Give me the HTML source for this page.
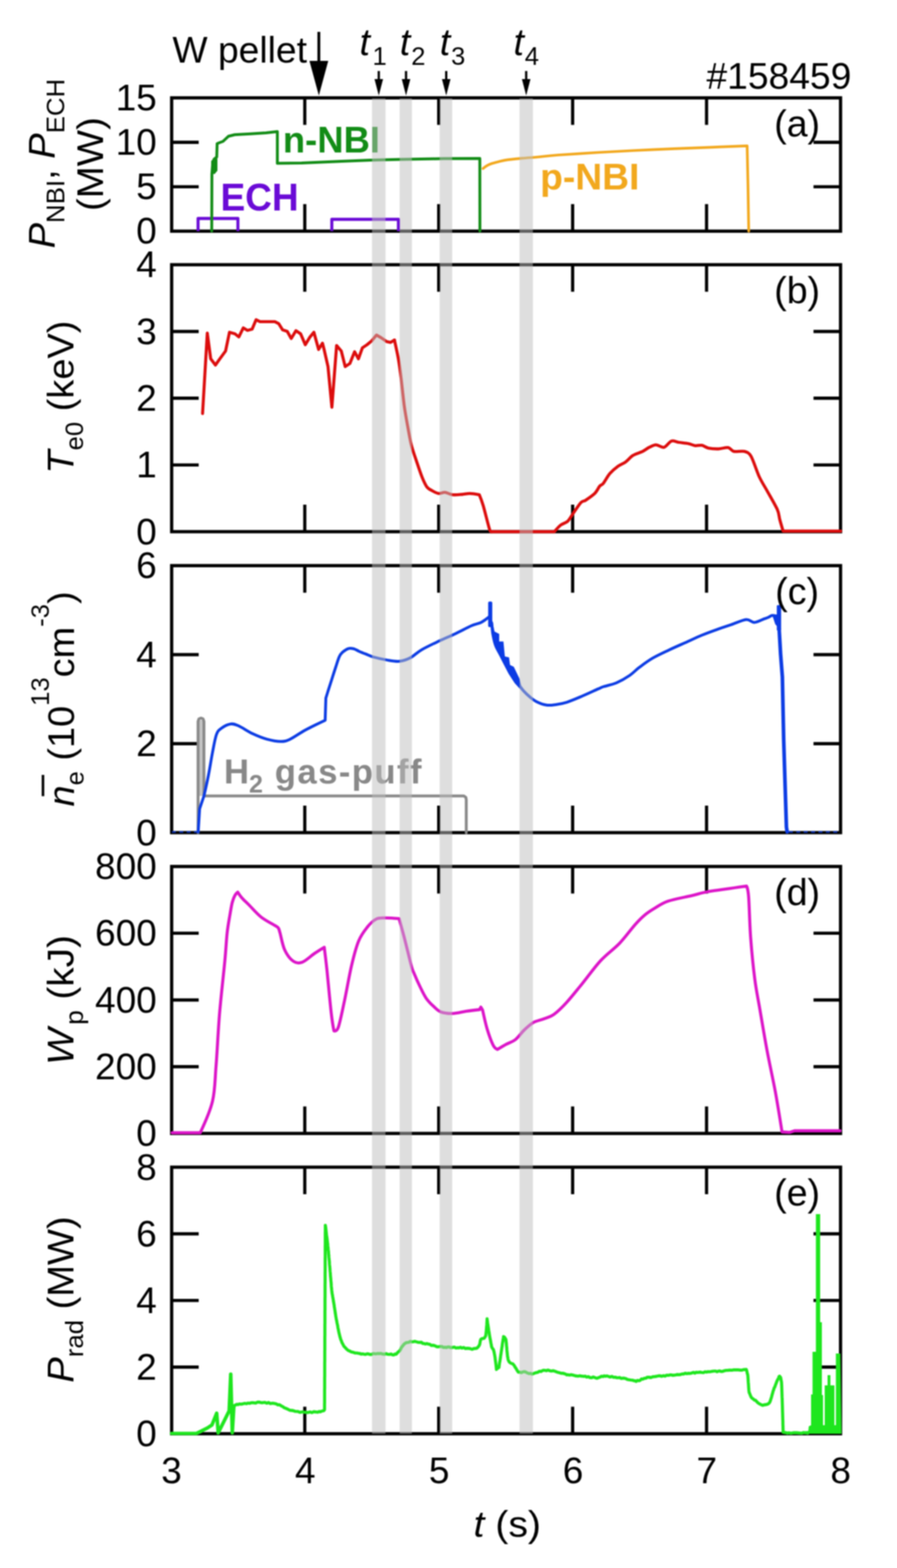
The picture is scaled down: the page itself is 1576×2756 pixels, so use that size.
<!DOCTYPE html><html><head><meta charset="utf-8"><title>Figure</title><style>html,body{margin:0;padding:0;background:#fff;}svg{display:block;filter:blur(0.8px);}text{font-family:'Liberation Sans', Arial, Helvetica, sans-serif;}</style></head><body>
<svg width="1576" height="2756" viewBox="0 0 1576 2756">
<rect width="1576" height="2756" fill="#fff"/>
<rect x="301.6" y="172.0" width="1175.2" height="234.3" fill="none" stroke="#000" stroke-width="5.7"/>
<path d="M535.5,172.0V219.5M535.5,406.3V358.8M770.8,172.0V219.5M770.8,406.3V358.8M1006.1,172.0V219.5M1006.1,406.3V358.8M1241.4,172.0V219.5M1241.4,406.3V358.8M301.6,328.2H349.1M1476.8,328.2H1429.3M301.6,250.1H349.1M1476.8,250.1H1429.3" stroke="#000" stroke-width="5.6" fill="none"/>
<rect x="301.6" y="465.3" width="1175.2" height="469.2" fill="none" stroke="#000" stroke-width="5.7"/>
<path d="M535.5,465.3V512.8M535.5,934.5V887.0M770.8,465.3V512.8M770.8,934.5V887.0M1006.1,465.3V512.8M1006.1,934.5V887.0M1241.4,465.3V512.8M1241.4,934.5V887.0M301.6,817.2H349.1M1476.8,817.2H1429.3M301.6,699.9H349.1M1476.8,699.9H1429.3M301.6,582.6H349.1M1476.8,582.6H1429.3" stroke="#000" stroke-width="5.6" fill="none"/>
<rect x="301.6" y="994.2" width="1175.2" height="469.3" fill="none" stroke="#000" stroke-width="5.7"/>
<path d="M535.5,994.2V1041.7M535.5,1463.5V1416.0M770.8,994.2V1041.7M770.8,1463.5V1416.0M1006.1,994.2V1041.7M1006.1,1463.5V1416.0M1241.4,994.2V1041.7M1241.4,1463.5V1416.0M301.6,1307.1H349.1M1476.8,1307.1H1429.3M301.6,1150.6H349.1M1476.8,1150.6H1429.3" stroke="#000" stroke-width="5.6" fill="none"/>
<rect x="301.6" y="1523.0" width="1175.2" height="469.2" fill="none" stroke="#000" stroke-width="5.7"/>
<path d="M535.5,1523.0V1570.5M535.5,1992.2V1944.7M770.8,1523.0V1570.5M770.8,1992.2V1944.7M1006.1,1523.0V1570.5M1006.1,1992.2V1944.7M1241.4,1523.0V1570.5M1241.4,1992.2V1944.7M301.6,1874.9H349.1M1476.8,1874.9H1429.3M301.6,1757.6H349.1M1476.8,1757.6H1429.3M301.6,1640.3H349.1M1476.8,1640.3H1429.3" stroke="#000" stroke-width="5.6" fill="none"/>
<rect x="301.6" y="2051.5" width="1175.2" height="468.5" fill="none" stroke="#000" stroke-width="5.7"/>
<path d="M535.5,2051.5V2099.0M535.5,2520.0V2472.5M770.8,2051.5V2099.0M770.8,2520.0V2472.5M1006.1,2051.5V2099.0M1006.1,2520.0V2472.5M1241.4,2051.5V2099.0M1241.4,2520.0V2472.5M301.6,2402.9H349.1M1476.8,2402.9H1429.3M301.6,2285.8H349.1M1476.8,2285.8H1429.3M301.6,2168.6H349.1M1476.8,2168.6H1429.3" stroke="#000" stroke-width="5.6" fill="none"/>
<path d="M348,406.3V384H418V406.3M583,406.3V385.5H700V406.3" fill="none" stroke="#6a0ad6" stroke-width="5.3" stroke-linejoin="round"/>
<polyline points="372.0,406.3 372.3,306.0 373.5,290.0 376.0,280.0 380.8,276.0 381.5,252.6 385.0,251.0 391.8,248.5 401.4,239.5 412.4,236.8 440.0,235.2 467.4,233.4 487.3,231.3 487.3,286.9 530.0,286.5 600.0,283.5 650.0,281.5 700.0,280.2 780.0,278.8 843.0,278.5 843.2,406.3" fill="none" stroke="#128c16" stroke-width="5.0" stroke-linejoin="round" stroke-linecap="round" />
<path d="M371,305L371,283L377,277L382,279L382,300L377,306Z" fill="#128c16"/>
<path d="M848.7,296.3C848.7,296.3 852.7,292.9 855.0,291.5C857.3,290.1 859.1,289.2 862.4,288.0C865.7,286.8 870.4,285.6 875.0,284.5C879.6,283.4 882.8,282.2 889.9,281.2C897.0,280.1 908.2,279.1 917.4,278.2C926.5,277.3 934.4,276.9 944.8,276.0C955.2,275.1 962.5,273.8 980.0,272.5C997.5,271.2 1021.7,269.6 1050.0,268.0C1078.3,266.4 1116.7,264.3 1150.0,262.8C1183.3,261.3 1222.9,259.9 1250.0,258.8C1277.1,257.7 1312.7,256.3 1312.7,256.3C1312.7,256.3 1314.2,327.0 1314.2,327.0C1314.2,327.0 1315.5,406.3 1315.5,406.3" fill="none" stroke="#f2a81d" stroke-width="4.7" stroke-linejoin="round" stroke-linecap="round" />
<text transform="translate(497.00,267.60)" text-anchor="start" font-size="64" font-weight="bold" fill="#128c16">n-NBI</text>
<text transform="translate(387.50,370.00) scale(1.0000,1.0500)" text-anchor="start" font-size="65" font-weight="bold" fill="#6a0ad6">ECH</text>
<text transform="translate(949.00,333.20) scale(1.0220,1.0000)" text-anchor="start" font-size="64" font-weight="bold" fill="#f2a81d">p-NBI</text>
<polyline points="355.9,726.8 364.2,585.3 370.2,630.7 378.5,641.6 385.3,632.0 396.3,617.0 403.2,584.0 412.8,586.7 419.7,592.2 427.4,576.3 434.8,580.7 443.0,578.5 449.9,562.0 456.8,565.3 482.9,565.3 489.7,568.8 496.6,579.8 504.8,582.6 511.7,595.0 520.0,581.2 528.2,586.7 536.4,605.9 544.7,592.2 551.5,584.0 559.8,614.2 566.6,603.2 569.4,614.2 576.3,644.4 583.1,715.8 591.4,607.3 599.6,616.9 606.5,644.4 614.7,638.9 623.0,618.3 629.8,630.7 636.7,611.4 644.9,605.9 653.2,599.0 661.4,588.9 669.7,593.6 679.3,600.4 686.2,601.8 693.0,597.7" fill="none" stroke="#dc0c0c" stroke-width="5.3" stroke-linejoin="round" stroke-linecap="round" />
<path d="M693.0,597.7C693.0,597.7 698.1,620.6 699.9,630.7C701.7,640.8 703.2,652.7 704.7,665.0C706.2,677.3 708.6,700.9 710.2,713.0C711.9,725.1 713.8,735.7 715.7,746.0C717.6,756.3 720.1,771.7 722.6,781.6C725.1,791.5 729.3,803.2 732.2,811.9C735.1,820.6 739.1,832.7 741.8,839.3C744.5,845.9 747.3,852.3 750.0,855.8C752.7,859.3 756.6,861.0 759.7,862.7C762.8,864.4 767.4,867.0 770.7,867.4C774.0,867.8 777.9,865.1 781.6,865.4C785.3,865.7 790.9,869.1 795.4,869.6C799.9,870.1 807.4,869.3 811.9,869.0C816.4,868.7 821.1,867.3 825.6,867.4C830.1,867.5 842.1,869.6 842.1,869.6C842.1,869.6 846.3,879.7 849.0,888.8C851.7,897.9 857.8,923.1 860.0,930.0C862.2,936.9 864.0,934.5 864.0,934.5C864.0,934.5 974.0,934.5 974.0,934.5C974.0,934.5 981.5,925.7 985.0,923.0C988.5,920.3 994.0,919.4 997.3,916.3C1000.6,913.2 1003.5,907.5 1007.0,902.5C1010.5,897.5 1017.4,886.8 1020.7,883.3C1024.0,879.8 1025.3,881.7 1029.0,879.2C1032.7,876.7 1041.7,870.5 1045.4,866.8C1049.1,863.1 1051.4,857.1 1053.6,854.5C1055.8,851.9 1057.3,852.9 1060.0,849.6C1062.7,846.3 1067.6,836.8 1071.5,832.3C1075.4,827.8 1081.9,822.3 1086.0,819.3C1090.1,816.3 1095.1,814.9 1099.0,812.1C1102.9,809.3 1107.5,803.4 1112.0,800.6C1116.5,797.8 1124.9,795.6 1129.2,793.4C1133.5,791.2 1137.3,787.9 1140.8,786.2C1144.3,784.5 1148.4,781.8 1152.3,781.8C1156.2,781.8 1162.6,787.2 1166.7,786.2C1170.8,785.2 1175.8,776.5 1179.7,775.2C1183.6,773.9 1188.2,776.8 1192.7,777.5C1197.2,778.2 1205.7,778.9 1210.0,779.8C1214.3,780.7 1218.0,782.9 1221.5,783.3C1225.0,783.7 1229.5,782.1 1233.0,782.7C1236.5,783.3 1240.2,786.7 1244.6,787.6C1248.9,788.5 1256.8,789.1 1262.0,789.0C1267.2,788.9 1275.1,786.0 1279.2,786.7C1283.3,787.4 1285.0,792.4 1289.3,793.4C1293.6,794.4 1303.5,792.1 1308.0,793.4C1312.5,794.7 1315.7,795.3 1319.6,802.0C1323.5,808.7 1329.7,828.7 1334.0,838.0C1338.3,847.3 1343.7,855.3 1348.5,864.0C1353.3,872.7 1362.6,888.4 1365.8,895.8C1369.0,903.1 1368.5,907.3 1370.0,913.0C1371.5,918.7 1375.9,933.5 1375.9,933.5C1375.9,933.5 1477.0,933.5 1477.0,933.5" fill="none" stroke="#dc0c0c" stroke-width="5.3" stroke-linejoin="round" stroke-linecap="round" />
<rect x="349.5" y="1266" width="7.5" height="133" fill="#c6c6c6"/>
<polyline points="348.0,1463.5 348.0,1268.0 349.5,1263.5 353.2,1262.2 356.8,1263.5 358.3,1268.0 358.3,1399.0 815.0,1399.0 818.5,1401.5 819.2,1405.5 819.2,1463.5" fill="none" stroke="#888888" stroke-width="5.0" stroke-linejoin="round" stroke-linecap="round" />
<text x="393.5" y="1377" font-size="61" font-weight="bold" fill="#888888">H<tspan font-size="44" dy="15.8">2</tspan><tspan dy="-15.8" dx="1.4" letter-spacing="2.45"> gas-puff</tspan></text>
<path d="M302,1462.3H346M1386,1462.3H1476" stroke="#0c3ce4" stroke-width="3" stroke-dasharray="7 6" fill="none" opacity="0.75"/>
<polyline points="348.2,1462.5 350.7,1421.8 358.5,1398.5" fill="none" stroke="#0c3ce4" stroke-width="5.0" stroke-linejoin="round" stroke-linecap="round" />
<path d="M358.5,1398.5C358.5,1398.5 363.9,1374.8 366.3,1362.3C368.8,1349.8 370.9,1335.3 373.2,1323.4C375.5,1311.5 377.7,1298.2 380.3,1291.0C382.9,1283.8 384.8,1283.1 389.0,1280.0C393.2,1276.9 400.4,1273.2 405.4,1272.5C410.4,1271.8 412.7,1273.0 419.1,1275.8C425.5,1278.6 435.6,1285.7 443.8,1289.6C452.1,1293.5 460.4,1296.9 468.6,1299.2C476.9,1301.5 486.4,1303.3 493.3,1303.3C500.2,1303.3 502.5,1302.6 509.8,1299.2C517.1,1295.8 527.0,1288.2 537.3,1282.7C547.5,1277.2 571.3,1265.9 571.3,1265.9C571.3,1265.9 572.5,1227.0 572.5,1227.0C572.5,1227.0 574.6,1220.3 576.3,1214.8C578.0,1209.3 580.7,1201.1 582.9,1194.2C585.1,1187.3 587.3,1180.2 589.5,1173.6C591.7,1167.0 594.0,1159.1 596.0,1154.6C598.0,1150.1 599.0,1148.9 601.8,1146.4C604.5,1143.9 609.1,1140.8 612.5,1139.8C615.9,1138.8 619.4,1139.8 622.4,1140.6C625.4,1141.4 627.3,1143.2 630.7,1144.7C634.1,1146.2 638.9,1148.1 643.0,1149.7C647.1,1151.3 649.2,1152.9 655.4,1154.6C661.6,1156.3 672.2,1158.8 680.0,1160.1C687.8,1161.4 695.1,1163.0 702.0,1162.3C708.9,1161.6 714.8,1159.3 721.2,1156.0C727.6,1152.7 732.1,1147.1 740.4,1142.3C748.6,1137.5 760.6,1131.9 770.7,1127.1C780.8,1122.3 791.3,1118.0 800.9,1113.4C810.5,1108.8 821.1,1102.9 828.4,1099.7C835.7,1096.5 839.7,1096.7 844.8,1094.2C849.9,1091.7 859.0,1084.5 859.0,1084.5" fill="none" stroke="#0c3ce4" stroke-width="5.0" stroke-linejoin="round" stroke-linecap="round" />
<rect x="857.7" y="1057.3" width="7.2" height="45" rx="2.5" fill="#0c3ce4"/>
<path d="M862.5,1095.0L863.1,1110.0L867.2,1130.7L874.6,1147.2L882.9,1163.7L893.6,1184.3L904.3,1200.8L911.8,1209.0L916.0,1213.0L916.0,1206.0L912.6,1192.6L902.7,1172.0L896.1,1168.7L894.4,1155.5L887.0,1153.8L884.5,1127.4L877.1,1127.4L877.1,1114.2L868.9,1110.0L864.7,1089.5Z" fill="#0c3ce4"/>
<path d="M864.0,1095.0C864.0,1095.0 864.8,1108.3 866.0,1115.0C867.2,1121.7 868.8,1129.2 871.0,1135.0C873.2,1140.8 876.3,1145.3 879.0,1150.0C881.7,1154.7 884.3,1158.3 887.0,1163.0C889.7,1167.7 892.2,1173.0 895.0,1178.0C897.8,1183.0 901.2,1188.7 904.0,1193.0C906.8,1197.3 909.3,1200.4 912.0,1204.0C914.7,1207.6 916.8,1211.0 920.0,1214.5C923.2,1218.0 927.2,1221.8 931.0,1225.0C934.8,1228.2 938.1,1231.1 943.0,1233.5C947.9,1235.9 954.6,1238.5 960.2,1239.3C965.8,1240.1 970.8,1239.2 976.7,1238.4C982.7,1237.6 988.1,1236.8 995.9,1234.3C1003.7,1231.8 1014.2,1227.2 1023.4,1223.3C1032.6,1219.4 1044.8,1213.6 1050.9,1210.9C1057.0,1208.2 1054.7,1208.8 1060.0,1207.0C1065.3,1205.2 1075.3,1203.5 1083.0,1200.2C1090.7,1196.9 1099.5,1191.8 1106.2,1187.2C1113.0,1182.6 1116.8,1177.8 1123.5,1172.8C1130.2,1167.8 1137.8,1162.0 1146.5,1156.9C1155.2,1151.9 1165.8,1147.1 1175.4,1142.5C1185.0,1137.9 1194.6,1133.8 1204.2,1129.5C1213.8,1125.2 1223.4,1120.5 1233.0,1116.5C1242.6,1112.5 1253.3,1108.7 1262.0,1105.6C1270.7,1102.5 1276.8,1100.5 1285.0,1097.8C1293.2,1095.0 1304.3,1089.7 1311.0,1089.1C1317.7,1088.5 1320.1,1094.2 1325.4,1094.0C1330.7,1093.8 1338.7,1089.2 1342.7,1087.7C1346.7,1086.2 1347.2,1086.3 1349.5,1085.3C1351.8,1084.3 1354.0,1082.2 1356.5,1081.8C1359.0,1081.4 1364.2,1083.0 1364.2,1083.0" fill="none" stroke="#0c3ce4" stroke-width="5.0" stroke-linejoin="round" stroke-linecap="round" />
<rect x="1364.8" y="1063.5" width="7.6" height="45" rx="2" fill="#0c3ce4"/>
<path d="M1356.5,1080L1366,1080L1368,1104L1362,1097Z" fill="#0c3ce4"/>
<polyline points="1368.6,1100.0 1371.5,1150.0 1374.6,1190.0 1376.9,1300.0 1381.7,1453.7 1383.0,1462.0" fill="none" stroke="#0c3ce4" stroke-width="6.4" stroke-linejoin="round" stroke-linecap="round" />
<path d="M302.4,1991.0C302.4,1991.0 351.8,1991.0 351.8,1991.0C351.8,1991.0 368.8,1955.0 373.4,1935.4C378.0,1915.8 377.5,1899.3 379.6,1873.6C381.7,1847.8 383.2,1811.8 385.8,1780.9C388.4,1750.0 392.9,1711.8 395.1,1688.2C397.3,1664.6 397.6,1652.9 399.1,1639.5C400.6,1626.1 402.5,1616.8 404.0,1607.9C405.5,1599.0 406.6,1591.7 408.1,1586.0C409.6,1580.3 411.3,1576.6 412.9,1573.6C414.5,1570.6 417.7,1568.1 417.7,1568.1C417.7,1568.1 421.4,1574.0 424.6,1577.7C427.8,1581.4 431.2,1584.3 436.9,1590.0C442.6,1595.7 451.1,1605.8 458.9,1612.0C466.7,1618.2 478.6,1623.9 483.6,1627.1C488.6,1630.3 487.7,1629.2 489.1,1631.3C490.5,1633.4 490.0,1633.1 491.9,1639.5C493.8,1645.9 496.2,1661.2 500.2,1669.6C504.1,1678.0 510.5,1686.1 515.6,1689.7C520.7,1693.3 524.8,1693.6 531.0,1691.3C537.2,1689.0 546.2,1680.2 552.7,1675.8C559.2,1671.4 569.7,1665.0 569.7,1665.0C569.7,1665.0 572.2,1684.3 574.3,1703.6C576.3,1722.9 579.9,1762.9 582.0,1780.9C584.1,1798.9 586.7,1811.8 586.7,1811.8C586.7,1811.8 591.3,1814.3 594.4,1805.6C597.5,1796.8 601.3,1777.3 605.2,1759.3C609.1,1741.3 613.5,1714.9 617.6,1697.4C621.7,1679.9 625.4,1665.5 630.0,1654.2C634.6,1642.9 640.2,1636.0 645.4,1629.5C650.5,1623.0 655.8,1618.2 660.9,1615.5C666.0,1612.8 669.6,1613.6 676.3,1613.4C683.0,1613.2 701.0,1614.6 701.0,1614.6C701.0,1614.6 706.7,1634.2 710.3,1648.0C713.9,1661.8 719.8,1686.8 722.7,1697.4C725.6,1708.0 725.2,1705.2 727.8,1711.4C730.4,1717.7 734.8,1727.7 738.3,1734.9C741.8,1742.1 744.8,1748.8 748.7,1754.4C752.6,1760.1 757.4,1764.8 761.8,1768.8C766.1,1772.8 769.1,1776.6 774.8,1778.7C780.4,1780.8 788.3,1781.5 795.7,1781.3C803.1,1781.1 811.4,1778.5 819.2,1777.4C827.0,1776.3 842.7,1774.5 842.7,1774.5C842.7,1774.5 844.8,1770.1 844.8,1770.1C844.8,1770.1 847.9,1775.3 847.9,1775.3C847.9,1775.3 852.7,1797.8 855.7,1808.0C858.8,1818.2 863.2,1830.5 866.2,1836.6C869.2,1842.7 874.0,1844.5 874.0,1844.5C874.0,1844.5 884.4,1838.1 889.6,1835.3C894.8,1832.5 900.1,1831.6 905.3,1827.5C910.5,1823.4 915.8,1815.5 921.0,1810.5C926.2,1805.5 931.0,1800.8 936.6,1797.5C942.2,1794.2 948.8,1793.4 954.9,1791.0C961.0,1788.6 966.3,1787.8 973.0,1783.1C979.7,1778.3 986.8,1771.4 995.0,1762.5C1003.2,1753.6 1012.3,1741.9 1022.4,1729.6C1032.5,1717.2 1044.4,1700.3 1055.4,1688.4C1066.4,1676.5 1078.3,1668.6 1088.4,1658.1C1098.5,1647.6 1108.5,1633.4 1115.8,1625.2C1123.1,1617.0 1126.6,1613.5 1132.3,1608.7C1138.0,1603.9 1143.1,1600.6 1150.0,1596.5C1156.9,1592.4 1162.7,1587.7 1173.5,1584.0C1184.3,1580.3 1203.2,1577.0 1214.7,1574.3C1226.2,1571.5 1233.0,1569.3 1242.2,1567.5C1251.4,1565.7 1261.7,1564.6 1269.7,1563.4C1277.7,1562.2 1283.0,1561.5 1290.0,1560.5C1297.0,1559.5 1311.7,1557.4 1311.7,1557.4C1311.7,1557.4 1314.1,1560.9 1315.3,1576.1C1316.5,1591.3 1317.1,1624.3 1318.9,1648.4C1320.7,1672.5 1323.4,1699.5 1326.1,1720.6C1328.8,1741.7 1331.6,1753.7 1335.2,1774.8C1338.8,1795.9 1343.3,1823.0 1347.8,1847.1C1352.3,1871.2 1357.9,1895.6 1362.3,1919.3C1366.7,1943.0 1374.0,1989.5 1374.0,1989.5C1374.0,1989.5 1387.7,1990.3 1387.7,1990.3C1387.7,1990.3 1396.0,1987.5 1396.0,1987.5C1396.0,1987.5 1476.0,1987.5 1476.0,1987.5" fill="none" stroke="#dc14c8" stroke-width="5.3" stroke-linejoin="round" stroke-linecap="round" />
<polyline points="301.5,2519.5 345.0,2519.5 353.2,2515.6 364.2,2510.0 372.4,2504.6 380.7,2484.0 383.4,2518.4 389.0,2507.4 402.6,2479.9 405.4,2415.3 408.1,2518.4 410.9,2471.6" fill="none" stroke="#1ee61e" stroke-width="6.2" stroke-linejoin="round" stroke-linecap="round" />
<polyline points="410.9,2471.6 412.3,2470.2 416.4,2468.3 418.2,2468.9 420.6,2467.6 423.4,2468.1 426.6,2467.5 429.8,2466.7 433.0,2467.2 435.9,2466.1 438.4,2466.6 440.8,2465.7 443.5,2465.4 446.4,2465.7 449.4,2466.1 452.3,2464.5 455.2,2464.5 457.9,2465.1 460.3,2465.6 462.7,2465.1 465.6,2465.0 468.7,2466.4 471.8,2465.1 474.9,2467.0 477.8,2466.4 480.3,2466.5 482.3,2466.8 485.5,2467.7 488.4,2469.3 491.0,2468.9 493.3,2470.4 495.2,2471.6 497.3,2472.6 499.5,2474.5 501.9,2475.2 504.3,2476.3 506.4,2477.2 509.1,2478.8 512.2,2479.0 515.4,2479.5 518.5,2480.6 521.3,2480.9 523.5,2480.9 526.1,2482.2 528.7,2482.2 531.3,2481.5 534.2,2482.2 537.3,2482.1 539.3,2482.8 541.8,2482.5 544.8,2481.7 548.1,2482.9 551.4,2481.3 554.7,2481.7 557.9,2482.2 560.7,2481.0 563.0,2481.5 564.7,2480.5 569.1,2479.3 570.2,2477.6 570.2,2477.2 570.2,2477.5 570.2,2476.2 570.2,2476.5 570.2,2475.8 570.2,2475.2 570.2,2474.3 570.2,2474.1 570.2,2473.4 570.2,2471.5 570.2,2470.7 570.2,2468.4 570.2,2468.3 570.2,2466.8 570.3,2465.9 570.3,2464.0 570.3,2461.3 570.3,2459.8 570.3,2458.4 570.3,2455.3 570.3,2454.1 570.3,2451.5 570.3,2449.2 570.3,2446.9 570.3,2445.8 570.3,2442.3 570.4,2440.1 570.4,2437.8 570.4,2436.1 570.4,2432.0 570.4,2429.9 570.4,2427.3 570.4,2425.1 570.4,2422.1 570.5,2419.2 570.5,2415.2 570.5,2412.4 570.5,2409.1 570.5,2406.9 570.5,2403.9 570.5,2399.2 570.5,2395.9 570.6,2392.7 570.6,2389.4 570.6,2386.4 570.6,2383.2 570.6,2379.1 570.6,2375.1 570.7,2372.4 570.7,2368.7 570.7,2365.5 570.7,2362.6 570.7,2358.5 570.7,2354.5 570.7,2351.0 570.8,2347.4 570.8,2342.6 570.8,2340.4 570.8,2336.4 570.8,2332.9 570.8,2329.0 570.9,2324.5 570.9,2320.8 570.9,2316.5 570.9,2313.7 570.9,2308.9 570.9,2305.1 571.0,2301.6 571.0,2297.8 571.0,2294.4 571.0,2290.1 571.0,2286.3 571.0,2282.9 571.1,2279.1 571.1,2275.9 571.1,2271.6 571.1,2269.5 571.1,2265.4 571.1,2261.0 571.1,2257.7 571.2,2254.3 571.2,2250.8 571.2,2246.9 571.2,2244.8 571.2,2241.6 571.2,2237.3 571.3,2234.0 571.3,2230.0 571.3,2226.8 571.3,2224.1 571.3,2220.8 571.3,2218.7 571.3,2214.4 571.3,2211.2 571.4,2209.9 571.4,2206.2 571.4,2202.7 571.4,2200.7 571.4,2197.0 571.4,2195.3 571.4,2193.5 571.4,2190.7 571.5,2188.0 571.5,2184.8 571.5,2182.7 571.5,2180.1 571.5,2179.0 571.5,2176.5 571.5,2174.9 571.5,2172.2 571.5,2170.1 571.5,2169.4 571.5,2168.1 571.5,2166.2 571.6,2164.7 571.6,2163.3 571.6,2161.8 571.6,2159.7 571.6,2159.1 571.6,2157.7 571.6,2156.2 571.6,2155.4 571.6,2155.1 571.6,2154.5 571.6,2154.8 571.6,2154.8 571.6,2153.6 571.6,2154.3 571.6,2154.4 571.6,2154.7 571.8,2154.6 572.0,2155.9 572.3,2158.0 572.6,2160.5 572.9,2163.3 573.3,2167.1 573.7,2170.9 574.2,2174.2 574.6,2176.9 575.0,2180.6 575.4,2184.0 575.7,2185.7 576.0,2189.5 576.3,2192.2 576.5,2194.1 576.7,2196.3 577.0,2198.3 577.2,2200.4 577.4,2204.2 577.7,2206.2 577.9,2209.9 578.2,2213.0 578.4,2214.9 578.7,2217.7 578.9,2221.5 579.1,2223.8 579.3,2225.4 579.5,2227.7 579.7,2230.0 579.9,2233.4 580.1,2235.6 580.3,2236.9 580.5,2240.7 580.7,2243.8 581.0,2246.0 581.2,2248.4 581.4,2251.6 581.7,2253.7 581.9,2256.3 582.1,2260.7 582.3,2262.7 582.6,2264.8 582.8,2267.7 583.0,2268.7 583.3,2272.0 583.7,2274.6 584.1,2276.2 584.5,2279.0 585.0,2281.8 585.5,2284.4 585.9,2287.6 586.3,2289.5 586.7,2292.2 587.1,2293.8 587.4,2297.4 587.8,2298.9 588.2,2301.7 588.7,2304.7 589.1,2308.1 589.5,2310.1 590.0,2313.7 590.4,2315.6 590.8,2318.2 591.2,2320.3 591.6,2321.7 592.1,2325.0 592.6,2327.3 593.2,2329.8 593.8,2334.2 594.3,2336.0 594.9,2339.3 595.5,2342.3 596.0,2344.2 596.4,2345.7 597.1,2348.9 598.0,2351.9 598.9,2355.1 599.8,2356.6 600.7,2359.7 601.5,2361.0 602.8,2363.4 604.4,2366.6 606.1,2368.1 607.7,2369.8 609.6,2371.8 611.9,2373.8 614.4,2374.6 617.0,2376.1 619.0,2376.5 621.4,2377.2 624.1,2378.1 627.0,2378.1 629.8,2378.7 632.4,2379.0 634.4,2380.0 636.9,2379.7 639.6,2380.2 642.4,2380.5 645.3,2379.4 648.1,2380.0 650.7,2380.8 653.0,2380.6 655.2,2379.3 657.8,2379.3 660.5,2379.7 663.3,2379.0 666.1,2379.2 668.9,2378.8 671.4,2379.8 673.6,2380.0 675.9,2380.3 678.5,2379.2 681.3,2380.4 684.3,2380.6 687.1,2379.9 689.7,2381.4 692.0,2381.5 693.7,2380.0 696.3,2380.2 698.4,2377.5 700.3,2375.6 702.0,2374.5 703.5,2372.3 705.1,2368.7 706.8,2366.5 708.6,2364.3 710.2,2362.3 712.4,2360.6 715.2,2359.6 718.1,2359.4 721.2,2357.6 723.2,2358.5 725.8,2358.4 728.7,2357.7 731.8,2358.5 734.9,2359.4 737.8,2359.5 740.4,2359.1 742.4,2361.2 744.7,2361.4 747.2,2362.3 749.9,2361.5 752.6,2362.5 755.3,2362.9 757.9,2364.9 760.3,2364.5 762.4,2364.7 764.8,2365.7 767.4,2367.0 770.3,2367.2 773.3,2366.6 776.2,2366.7 779.2,2368.4 781.9,2368.0 784.4,2368.5 786.7,2367.5 789.3,2367.5 792.1,2368.7 795.1,2368.3 798.1,2367.7 801.2,2369.3 804.0,2368.8 806.7,2369.1 809.1,2368.0 811.5,2369.5 814.4,2368.4 817.5,2370.2 820.7,2369.8 823.9,2370.0 826.9,2370.7 829.7,2371.6 832.0,2370.5 833.8,2370.2 837.6,2369.8 840.3,2367.2 842.1,2364.7 842.9,2362.5 843.5,2359.1 844.0,2356.2 844.8,2354.1 847.3,2352.7 850.6,2352.4 853.1,2348.5 853.5,2347.3 853.8,2344.4 854.1,2341.9 854.5,2338.1 854.7,2335.1 855.0,2331.1 855.2,2329.0 855.4,2325.6 855.6,2322.2 855.7,2320.6 855.8,2320.0 855.8,2318.0 855.9,2319.8 856.1,2320.4 856.4,2322.6 856.8,2325.9 857.2,2328.2 857.7,2331.7 858.3,2335.4 858.8,2339.2 859.2,2341.1 859.7,2344.7 860.0,2346.6 860.4,2349.1 860.9,2351.7 861.5,2354.7 862.0,2357.3 862.5,2360.5 863.1,2363.1 863.6,2366.7 864.0,2367.7 865.3,2370.3 866.9,2372.1 868.2,2377.0 868.5,2378.7 868.9,2380.7 869.3,2382.9 869.8,2386.0 870.2,2389.6 870.7,2393.4 871.1,2396.2 871.5,2399.8 871.8,2402.2 872.1,2405.6 872.2,2407.0 872.3,2406.7 876.4,2403.3 876.7,2403.4 877.0,2400.4 877.3,2398.4 877.7,2395.3 878.2,2393.2 878.6,2390.4 879.1,2387.3 879.6,2383.4 880.1,2380.5 880.7,2376.1 881.2,2373.0 881.7,2369.3 882.2,2366.5 882.6,2362.6 883.1,2359.6 883.5,2357.3 883.8,2354.7 884.1,2353.2 884.4,2351.4 884.5,2350.5 884.7,2349.5 884.7,2349.3 886.3,2350.3 888.8,2354.2 889.0,2355.5 889.3,2358.7 889.5,2359.5 889.8,2363.3 890.0,2366.1 890.3,2368.1 890.6,2372.7 890.9,2376.0 891.2,2378.7 891.5,2381.8 891.8,2384.7 892.2,2385.9 892.5,2388.6 892.9,2390.1 894.4,2393.5 896.4,2395.3 898.6,2396.5 900.8,2397.1 902.5,2399.1 903.8,2400.6 905.1,2403.2 906.6,2405.2 908.0,2407.6 909.5,2410.1 910.8,2411.8 913.2,2411.8 916.2,2412.5 919.2,2411.1 921.8,2410.9 924.1,2411.7 926.7,2413.3 929.6,2414.3 932.7,2413.9 934.4,2415.1 936.7,2414.6 939.2,2413.5 942.0,2412.7 944.9,2412.1 947.7,2410.2 950.4,2410.7 952.7,2409.2 954.7,2408.5 957.3,2408.6 960.0,2409.2 962.8,2408.1 965.6,2409.2 968.4,2409.8 971.2,2409.3 973.0,2409.5 975.2,2410.2 977.7,2411.3 980.3,2412.2 983.1,2412.8 985.8,2413.7 988.6,2413.6 991.3,2414.4 993.8,2415.3 996.0,2416.6 998.0,2416.2 1000.3,2417.0 1002.8,2416.3 1005.5,2416.6 1008.2,2417.3 1010.9,2418.2 1013.7,2418.5 1016.4,2418.7 1018.9,2418.2 1021.3,2418.8 1023.4,2418.9 1025.6,2419.2 1028.1,2418.8 1030.8,2420.5 1033.7,2419.6 1036.6,2421.3 1039.5,2421.6 1042.3,2420.2 1045.0,2421.3 1047.3,2422.1 1049.3,2422.5 1050.9,2421.6 1054.3,2420.5 1056.5,2419.0 1060.0,2419.5 1061.6,2418.2 1063.7,2419.0 1066.2,2418.4 1068.9,2419.3 1071.9,2420.4 1074.9,2419.2 1078.0,2420.8 1081.0,2420.6 1083.9,2421.6 1086.5,2421.6 1088.8,2421.1 1091.1,2422.7 1093.6,2422.5 1096.4,2422.3 1099.3,2423.0 1102.3,2424.6 1105.3,2425.2 1108.2,2425.6 1111.0,2425.9 1113.6,2426.7 1115.8,2427.0 1117.7,2428.0 1120.2,2426.3 1122.5,2426.9 1124.7,2426.2 1126.9,2423.8 1129.3,2424.1 1131.9,2422.7 1135.0,2422.3 1136.6,2421.0 1138.5,2420.8 1140.6,2420.6 1143.0,2421.4 1145.5,2420.4 1148.2,2419.7 1151.0,2419.5 1153.9,2419.0 1156.8,2418.3 1159.7,2418.1 1162.6,2419.1 1165.5,2417.9 1168.2,2418.8 1170.8,2417.3 1173.2,2417.1 1175.4,2417.3 1177.5,2416.5 1179.7,2416.6 1182.1,2417.4 1184.6,2417.0 1187.2,2416.6 1189.9,2416.0 1192.7,2416.3 1195.5,2416.0 1198.3,2415.0 1201.1,2415.0 1203.9,2413.6 1206.6,2414.5 1209.3,2413.8 1211.8,2414.1 1214.3,2413.6 1216.6,2412.8 1218.7,2412.2 1220.8,2413.6 1223.1,2412.0 1225.5,2412.4 1228.0,2412.0 1230.6,2411.8 1233.2,2412.4 1235.9,2412.6 1238.7,2411.1 1241.4,2411.7 1244.2,2410.9 1247.0,2411.1 1249.7,2410.7 1252.3,2410.1 1254.9,2409.9 1257.4,2409.9 1259.8,2411.0 1262.0,2410.1 1264.1,2409.5 1266.6,2410.5 1269.4,2410.5 1272.4,2409.4 1275.7,2408.6 1279.0,2408.5 1282.5,2408.1 1286.0,2408.4 1289.4,2407.7 1292.8,2407.8 1296.0,2407.6 1299.1,2408.0 1301.9,2408.4 1304.5,2408.0 1306.7,2407.3 1308.5,2407.2 1309.9,2407.3 1310.7,2407.0 1311.0,2406.9 1311.3,2407.2 1312.1,2409.8 1313.0,2414.2 1313.8,2416.6 1314.0,2419.0 1314.2,2421.4 1314.4,2424.4 1314.5,2426.2 1314.7,2429.4 1315.0,2432.6 1315.2,2436.1 1315.4,2439.4 1315.7,2443.2 1316.0,2445.7 1316.3,2447.9 1316.7,2448.1 1317.9,2451.3 1319.5,2455.2 1321.5,2457.7 1323.5,2458.9 1325.4,2460.8 1327.3,2461.2 1329.7,2463.7 1332.5,2466.4 1335.2,2467.8 1337.7,2469.1 1339.8,2470.1 1342.7,2469.2 1345.8,2468.8 1348.9,2467.9 1351.3,2466.3 1352.1,2465.1 1353.0,2463.5 1353.9,2460.6 1354.9,2457.6 1355.8,2454.7 1356.7,2451.0 1357.6,2448.1 1358.5,2444.3 1359.3,2443.0 1360.0,2439.9 1361.0,2438.5 1362.3,2434.9 1363.8,2431.0 1365.2,2427.3 1366.6,2424.5 1367.7,2422.7 1368.4,2421.2 1368.7,2419.5 1369.6,2418.9 1371.5,2421.0 1373.0,2429.0 1373.1,2430.0 1373.2,2431.2 1373.3,2433.8 1373.4,2434.8 1373.5,2437.7 1373.6,2440.5 1373.7,2444.2 1373.8,2446.5 1373.9,2450.0 1374.0,2452.5 1374.1,2455.4 1374.3,2458.8 1374.4,2463.6 1374.5,2466.6 1374.6,2469.5 1374.7,2472.5 1374.8,2476.9 1374.9,2480.7 1375.0,2483.7 1375.1,2486.8 1375.2,2490.9 1375.3,2494.5 1375.4,2496.3 1375.5,2498.8 1375.5,2502.1 1375.6,2504.8 1375.7,2507.5 1375.7,2508.7 1375.8,2511.6 1375.8,2513.0 1375.9,2513.8 1375.9,2514.1 1375.9,2516.1 1375.9,2515.1 1375.7,2517.4 1380.0,2518.0 1381.4,2518.1 1383.4,2519.0 1385.9,2518.3 1388.7,2519.0 1391.9,2518.7 1395.2,2518.1 1398.7,2518.2 1402.2,2518.5 1405.6,2518.9 1408.9,2519.0 1411.9,2517.9 1414.6,2518.4 1416.8,2518.0 1418.5,2519.0 1419.6,2517.9 1420.0,2518.5" fill="none" stroke="#1ee61e" stroke-width="5.4" stroke-linejoin="round" stroke-linecap="round" />
<path d="M1419.7,2520.0L1421.0,2507.0L1425.0,2505.0L1425.0,2451.0L1427.6,2451.0L1427.6,2376.0L1433.5,2376.0L1433.5,2134.0L1441.0,2134.0L1441.0,2324.0L1444.0,2324.0L1444.0,2452.0L1446.0,2452.0L1446.0,2505.0L1449.0,2505.0L1449.0,2435.0L1454.0,2435.0L1454.0,2417.0L1459.0,2417.0L1459.0,2435.0L1466.0,2435.0L1466.0,2505.0L1468.6,2505.0L1468.6,2379.0L1476.5,2379.0L1478.5,2520.0Z" fill="#1ee61e"/>
<rect x="653.6" y="173" width="23.7" height="2347.0" fill="rgb(190,190,190)" fill-opacity="0.5"/>
<rect x="702.2" y="173" width="21.5" height="2347.0" fill="rgb(190,190,190)" fill-opacity="0.5"/>
<rect x="772.5" y="173" width="22.0" height="2347.0" fill="rgb(190,190,190)" fill-opacity="0.5"/>
<rect x="912.8" y="173" width="23.5" height="2347.0" fill="rgb(190,190,190)" fill-opacity="0.5"/>
<text transform="translate(275.50,428.30)" text-anchor="end" font-size="65" >0</text>
<text transform="translate(275.50,350.20)" text-anchor="end" font-size="65" >5</text>
<text transform="translate(275.50,272.10)" text-anchor="end" font-size="65" >10</text>
<text transform="translate(275.50,194.00)" text-anchor="end" font-size="65" >15</text>
<text transform="translate(275.50,956.50)" text-anchor="end" font-size="65" >0</text>
<text transform="translate(275.50,839.20)" text-anchor="end" font-size="65" >1</text>
<text transform="translate(275.50,721.90)" text-anchor="end" font-size="65" >2</text>
<text transform="translate(275.50,604.60)" text-anchor="end" font-size="65" >3</text>
<text transform="translate(275.50,487.30)" text-anchor="end" font-size="65" >4</text>
<text transform="translate(275.50,1485.50)" text-anchor="end" font-size="65" >0</text>
<text transform="translate(275.50,1329.07)" text-anchor="end" font-size="65" >2</text>
<text transform="translate(275.50,1172.63)" text-anchor="end" font-size="65" >4</text>
<text transform="translate(275.50,1016.20)" text-anchor="end" font-size="65" >6</text>
<text transform="translate(275.50,2014.20)" text-anchor="end" font-size="65" >0</text>
<text transform="translate(275.50,1896.90)" text-anchor="end" font-size="65" >200</text>
<text transform="translate(275.50,1779.60)" text-anchor="end" font-size="65" >400</text>
<text transform="translate(275.50,1662.30)" text-anchor="end" font-size="65" >600</text>
<text transform="translate(275.50,1545.00)" text-anchor="end" font-size="65" >800</text>
<text transform="translate(275.50,2542.00)" text-anchor="end" font-size="65" >0</text>
<text transform="translate(275.50,2424.88)" text-anchor="end" font-size="65" >2</text>
<text transform="translate(275.50,2307.75)" text-anchor="end" font-size="65" >4</text>
<text transform="translate(275.50,2190.62)" text-anchor="end" font-size="65" >6</text>
<text transform="translate(275.50,2073.50)" text-anchor="end" font-size="65" >8</text>
<text transform="translate(301.30,2606.50)" text-anchor="middle" font-size="65" >3</text>
<text transform="translate(536.45,2606.50)" text-anchor="middle" font-size="65" >4</text>
<text transform="translate(771.60,2606.50)" text-anchor="middle" font-size="65" >5</text>
<text transform="translate(1006.75,2606.50)" text-anchor="middle" font-size="65" >6</text>
<text transform="translate(1241.90,2606.50)" text-anchor="middle" font-size="65" >7</text>
<text transform="translate(1477.05,2606.50)" text-anchor="middle" font-size="65" >8</text>
<text transform="translate(891.25,2700.50) scale(1.0600,1.0000)" text-anchor="middle" font-size="65" ><tspan font-style="italic">t</tspan> (s)</text>
<text transform="translate(1400.50,239.50)" text-anchor="middle" font-size="66" >(a)</text>
<text transform="translate(1400.50,532.80)" text-anchor="middle" font-size="66" >(b)</text>
<text transform="translate(1400.50,1061.70)" text-anchor="middle" font-size="66" >(c)</text>
<text transform="translate(1400.50,1590.50)" text-anchor="middle" font-size="66" >(d)</text>
<text transform="translate(1400.50,2119.00)" text-anchor="middle" font-size="66" >(e)</text>
<text transform="translate(95.90,287.50) rotate(-90) scale(1.0320,1.0000)" text-anchor="middle" font-size="65" ><tspan font-style="italic">P</tspan><tspan font-size="44" dy="17">NBI</tspan><tspan dy="-17">, </tspan><tspan font-style="italic">P</tspan><tspan font-size="44" dy="17">ECH</tspan></text>
<text transform="translate(181.30,288.40) rotate(-90) scale(1.0400,1.0000)" text-anchor="middle" font-size="65" >(MW)</text>
<text transform="translate(129.10,698.00) rotate(-90) scale(1.0270,1.0000)" text-anchor="middle" font-size="65" ><tspan font-style="italic">T</tspan><tspan font-size="44" dy="17">e0</tspan><tspan dy="-17"> (keV)</tspan></text>
<text transform="translate(130.00,1228.50) rotate(-90) scale(1.0250,1.0000)" text-anchor="middle" font-size="65" ><tspan font-style="italic">n</tspan><tspan font-size="44" dy="17">e</tspan><tspan dy="-17"> (10</tspan><tspan font-size="44" dy="-44">13</tspan><tspan dy="44">cm</tspan><tspan font-size="44" dy="-44">-3</tspan><tspan dy="44">)</tspan></text>
<path d="M75.5,1362V1399.4" stroke="#000" stroke-width="4.5"/>
<text transform="translate(129.20,1757.75) rotate(-90) scale(1.0450,1.0000)" text-anchor="middle" font-size="65" ><tspan font-style="italic">W</tspan><tspan font-size="44" dy="17" dx="6">p</tspan><tspan dy="-17"> (kJ)</tspan></text>
<text transform="translate(129.40,2284.15) rotate(-90) scale(1.0300,1.0000)" text-anchor="middle" font-size="65" ><tspan font-style="italic">P</tspan><tspan font-size="44" dy="17">rad</tspan><tspan dy="-17"> (MW)</tspan></text>
<text transform="translate(303.00,109.70) scale(1.0225,1.0000)" text-anchor="start" font-size="64" >W pellet</text>
<text transform="translate(1495.80,156.00) scale(1.0060,1.0000)" text-anchor="end" font-size="65" >#158459</text>
<path d="M560.2,56V112" stroke="#000" stroke-width="5"/>
<path d="M543.7,107L576.7,107L560.2,168Z" fill="#000"/>
<path d="M665.5,124.8V145" stroke="#000" stroke-width="4"/>
<path d="M658.0,139L673.0,139L665.5,168Z" fill="#000"/>
<path d="M713.4,124.8V145" stroke="#000" stroke-width="4"/>
<path d="M705.9,139L720.9,139L713.4,168Z" fill="#000"/>
<path d="M784.0,124.8V145" stroke="#000" stroke-width="4"/>
<path d="M776.5,139L791.5,139L784.0,168Z" fill="#000"/>
<path d="M924.5,124.8V145" stroke="#000" stroke-width="4"/>
<path d="M917.0,139L932.0,139L924.5,168Z" fill="#000"/>
<text transform="translate(631.80,97.30)" text-anchor="start" font-size="66" font-style="italic">t</text>
<text transform="translate(654.50,113.90)" text-anchor="start" font-size="45" >1</text>
<text transform="translate(702.50,97.30)" text-anchor="start" font-size="66" font-style="italic">t</text>
<text transform="translate(722.50,113.90)" text-anchor="start" font-size="45" >2</text>
<text transform="translate(772.70,97.30)" text-anchor="start" font-size="66" font-style="italic">t</text>
<text transform="translate(792.50,113.90)" text-anchor="start" font-size="45" >3</text>
<text transform="translate(902.30,97.30)" text-anchor="start" font-size="66" font-style="italic">t</text>
<text transform="translate(922.00,113.90)" text-anchor="start" font-size="45" >4</text>
</svg></body></html>
